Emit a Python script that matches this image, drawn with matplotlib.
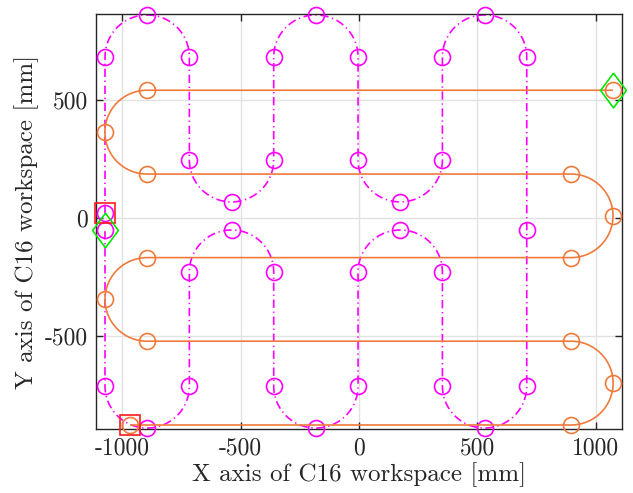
import numpy as np
import matplotlib
matplotlib.use("Agg")
import matplotlib.pyplot as plt
from matplotlib.path import Path
from matplotlib.patches import PathPatch

plt.rcParams['font.family'] = ['cmr10', 'DejaVu Serif']
plt.rcParams['axes.unicode_minus'] = False
plt.rcParams['mathtext.fontset'] = 'cm'

# Orange path (horizontal passes), waypoints in mm
orange_x = [1072, -895, -1072, -895, 895, 1072, 895, -895, -1072, -895, 895, 1072, 895, -966]
orange_y = [541, 541, 363.5, 186, 186, 9, -168, -168, -345, -522, -522, -699.5, -877, -877]
orange_moves = "LALALALAL"   # L = straight line, A = half circle through the next two points

# Magenta path (vertical passes), waypoints in mm
magenta_x = [-1072, -1072, -894, -716, -716, -538, -360, -360, -182, -4, -4, 174, 352, 352, 530, 708,
             708, 708, 530, 352, 352, 174, -4, -4, -182, -360, -360, -538, -716, -716, -894, -1072, -1072]
magenta_y = [21, 682, 860, 682, 246, 68, 246, 682, 860, 682, 246, 68, 246, 682, 860, 682,
             -51, -712, -890, -712, -229, -51, -229, -712, -890, -712, -229, -51, -229, -712, -890, -712, -51]
magenta_moves = "LALALALALALLALALALALAL"

# start / end markers
start_x = [-1072, -966]
start_y = [21, -877]
end_x = [-1072, 1072]
end_y = [-51, 541]

xticks = [-1000, -500, 0, 500, 1000]
yticks = [-500, 0, 500]

c_orange = '#F07A3C'
c_magenta = '#FF00FF'


def build_path(xs, ys, moves):
    verts = [(xs[0], ys[0])]
    codes = [Path.MOVETO]
    j = 0
    for m in moves:
        if m == 'L':
            verts.append((xs[j + 1], ys[j + 1]))
            codes.append(Path.LINETO)
            j += 1
        else:
            x0, y0 = xs[j], ys[j]
            xm, ym = xs[j + 1], ys[j + 1]
            x2, y2 = xs[j + 2], ys[j + 2]
            cx, cy = (x0 + x2) / 2, (y0 + y2) / 2
            r = np.hypot(x2 - x0, y2 - y0) / 2
            am = np.degrees(np.arctan2(ym - cy, xm - cx))
            arc = Path.arc(am - 90, am + 90)
            v = arc.vertices * r + [cx, cy]
            if np.hypot(*(v[0] - [x0, y0])) > np.hypot(*(v[-1] - [x0, y0])):
                v = v[::-1]
            for p in v[1:]:
                verts.append(tuple(p))
                codes.append(Path.CURVE4)
            j += 2
    return Path(verts, codes)


fig = plt.figure(figsize=(6.33, 4.93), dpi=100)
ax = fig.add_axes([96 / 633, 64 / 493, 526 / 633, 415 / 493])

ax.add_patch(PathPatch(build_path(magenta_x, magenta_y, magenta_moves), fill=False,
                       edgecolor=c_magenta, lw=1.2, ls=(0, (5, 2.2, 0.8, 2.2)), zorder=2))
ax.plot(magenta_x, magenta_y, 'o', ms=11.5, mfc='none', mec=c_magenta, mew=1.2, zorder=3, clip_on=False)

ax.add_patch(PathPatch(build_path(orange_x, orange_y, orange_moves), fill=False,
                       edgecolor=c_orange, lw=1.2, ls='-', zorder=4))
ax.plot(orange_x, orange_y, 'o', ms=11.5, mfc='none', mec=c_orange, mew=1.2, zorder=5, clip_on=False)

ax.plot(start_x, start_y, 's', ms=15, mfc='none', mec='#FF1A1A', mew=1.2, zorder=6, clip_on=False)
diamond = [(0, 1), (0.74, 0), (0, -1), (-0.74, 0), (0, 1)]
ax.plot(end_x, end_y, marker=diamond, ls='none', ms=25, mfc='none', mec='#00E600', mew=1.2,
        zorder=7, clip_on=False)

ax.set_xlim(-1110, 1110)
ax.set_ylim(-894, 864)
ax.set_xticks(xticks)
ax.set_yticks(yticks)
ax.grid(True, color='#E2E2E2', lw=1.0)
ax.set_axisbelow(True)
ax.tick_params(direction='in', length=5, width=1, colors='#262626', labelsize=17,
               top=True, right=True, pad=6)
for s in ax.spines.values():
    s.set_color('#262626')
    s.set_linewidth(1.0)

ax.set_xlabel('X axis of C16 workspace [mm]', fontsize=18, color='#262626', labelpad=2)
ax.set_ylabel('Y axis of C16 workspace [mm]', fontsize=18, color='#262626', labelpad=4)

fig.savefig('out.png', dpi=100)
